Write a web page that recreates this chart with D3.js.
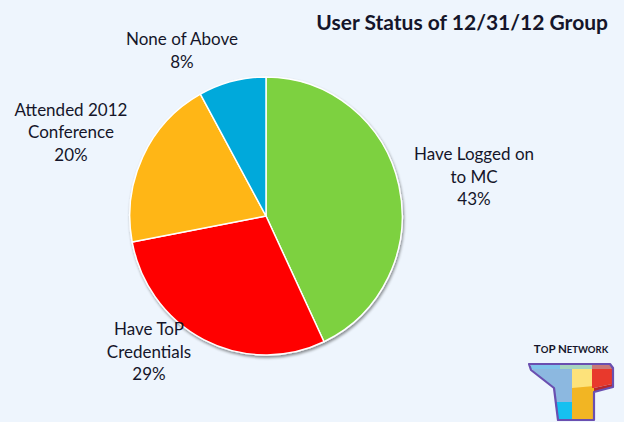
<!DOCTYPE html>
<html>
<head>
<meta charset="utf-8">
<script src="https://cdn.jsdelivr.net/npm/d3@7"></script>
<style>
  html, body { margin: 0; padding: 0; background: #eef5fd; }
  svg { display: block; }
  text { font-family: Lato, "Open Sans", sans-serif; fill: #15152a; }
</style>
</head>
<body>
<svg id="chart" width="624" height="422"></svg>
<script>
// ---- data ----
const categories = ["Have Logged on to MC", "Have ToP Credentials", "Attended 2012 Conference", "None of Above"];
const values = [43, 29, 20, 8];
const labelLines = [["Have Logged on", "to MC"], ["Have ToP", "Credentials"], ["Attended 2012", "Conference"], ["None of Above"]];
const colors = ["#7dd13f", "#ff0000", "#ffb612", "#00a9db"];
const title = "User Status of 12/31/12 Group";

// ---- layout ----
const W = 624, H = 422;
const cx = 266, cy = 216, R = 139, sx = 0.98;
const svg = d3.select("#chart");
svg.append("rect").attr("width", W).attr("height", H).attr("fill", "#eef5fd");

const defs = svg.append("defs");
const f = defs.append("filter").attr("id", "sh").attr("x", "-10%").attr("y", "-10%").attr("width", "120%").attr("height", "120%");
f.append("feGaussianBlur").attr("in", "SourceAlpha").attr("stdDeviation", 1.5).attr("result", "b");
f.append("feOffset").attr("in", "b").attr("dx", 1).attr("dy", 1.5).attr("result", "o");
f.append("feComponentTransfer").attr("in", "o").attr("result", "o2")
  .append("feFuncA").attr("type", "linear").attr("slope", 0.45);
const fm = f.append("feMerge");
fm.append("feMergeNode").attr("in", "o2");
fm.append("feMergeNode").attr("in", "SourceGraphic");

const data = categories.map((c, i) => ({ name: c, value: values[i], color: colors[i], lines: labelLines[i] }));
const pie = d3.pie().sort(null).value(d => d.value);
const arc = d3.arc().innerRadius(0).outerRadius(R);
const arcs = pie(data);

const g = svg.append("g").attr("transform", `translate(${cx},${cy}) scale(${sx},1)`).attr("filter", "url(#sh)");
g.selectAll("path").data(arcs).join("path")
  .attr("d", arc)
  .attr("fill", d => d.data.color)
  .attr("stroke", "#ffffff")
  .attr("stroke-width", 1.5)
  .attr("stroke-linejoin", "round");

// ---- labels ----
const labelPos = [
  { x: 474, y: 160 },   // Have Logged on
  { x: 149, y: 335 },   // Have ToP
  { x: 71, y: 115.5 },  // Attended
  { x: 182, y: 45 }     // None of Above
];
const lh = 22.5;
const fmt = d3.format(".0%");
arcs.forEach((a, i) => {
  const p = labelPos[i];
  const t = svg.append("text").attr("text-anchor", "middle").attr("font-size", 17);
  const lines = a.data.lines.concat([fmt(a.data.value / 100)]);
  lines.forEach((ln, j) => {
    t.append("tspan").attr("x", p.x).attr("y", p.y + j * lh).text(ln);
  });
});

// ---- title ----
svg.append("text").attr("x", 608).attr("y", 29.5).attr("text-anchor", "end")
  .attr("font-size", 21).attr("font-weight", "bold").attr("fill", "#111")
  .text(title);

// ---- logo (decorative) ----
const logo = svg.append("g").attr("transform", "translate(520,340)");
const lt = logo.append("text").attr("x", 51).attr("y", 12.5).attr("text-anchor", "middle")
  .attr("font-weight", "bold").attr("fill", "#7787ad").attr("letter-spacing", 0);
lt.append("tspan").attr("font-size", 11.5).text("T");
lt.append("tspan").attr("font-size", 9.5).text("O");
lt.append("tspan").attr("font-size", 11.5).text("P N");
lt.append("tspan").attr("font-size", 9.5).text("ETWORK");
const polys = [
  { pts: [[11,27],[52,27],[52,62],[36,62],[34,48],[13,31]], c: "#8cb8e0" },
  { pts: [[35,62],[52,62],[52,79],[38,79]], c: "#16c0f0" },
  { pts: [[52,27],[72,27],[72,48],[52,48]], c: "#fde27a" },
  { pts: [[52,48],[74,46],[74,79],[52,79]], c: "#f2b523" },
  { pts: [[72,27],[92,27],[92,44],[74,48],[72,48]], c: "#e8392c" },
  { pts: [[74,48],[92,44],[92,47],[74,52]], c: "#b8262b" },
  { pts: [[11,24],[40,24],[40,29],[11,29]], c: "#7fc3ea" },
  { pts: [[40,24],[72,24],[72,29],[40,29]], c: "#a6d4c0" },
  { pts: [[72,24],[90,24],[92,29],[72,29]], c: "#c87878" }
];
polys.forEach(p => {
  logo.append("polygon").attr("points", p.pts.map(q => q.join(",")).join(" ")).attr("fill", p.c);
});
logo.append("path")
  .attr("d", "M9,24 L90,24 L93,28 L93,47 L74,52 L74,80 L38,80 L34,48 L11,30 Z")
  .attr("fill", "none").attr("stroke", "#6a4fb0").attr("stroke-width", 2.2).attr("stroke-linejoin", "round");
</script>
</body>
</html>
